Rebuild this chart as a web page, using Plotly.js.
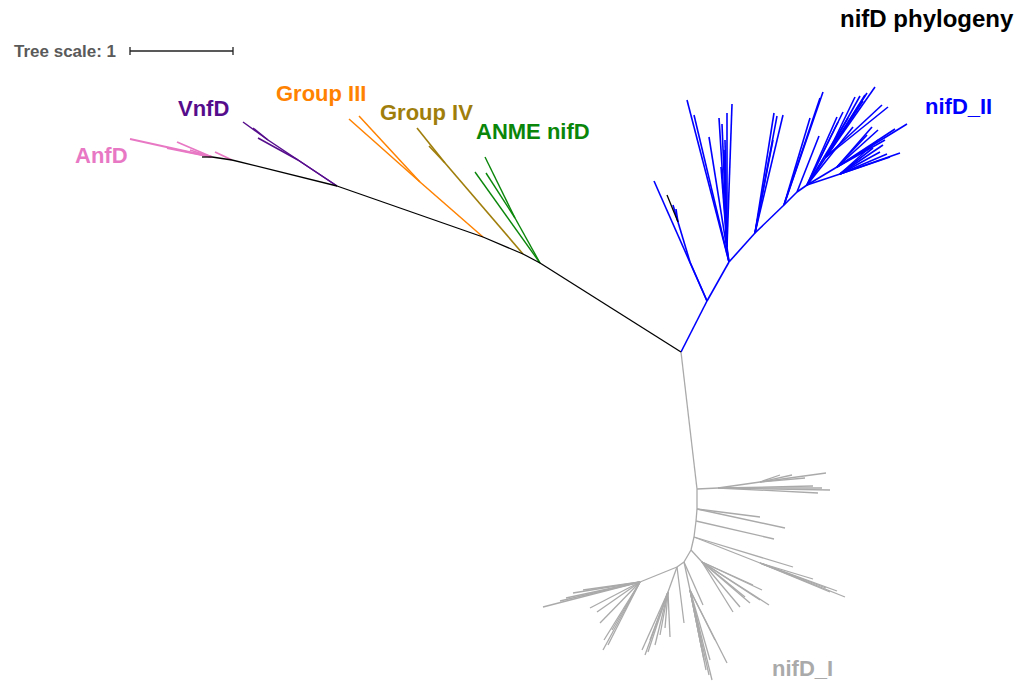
<!DOCTYPE html>
<html>
<head>
<meta charset="utf-8">
<script src="https://cdn.plot.ly/plotly-3.0.1.min.js"></script>
<style>
  html, body { margin: 0; padding: 0; background: #ffffff; }
  #tree { width: 1032px; height: 681px; }
</style>
</head>
<body>
<div id="tree"></div>
<script>
// Unrooted nifD tree, laid out in drawing units (1 tree unit = treeScalePx units).

// Clades and their colours
const cladeNames  = ['backbone', 'AnfD', 'VnfD', 'Group III', 'Group IV', 'ANME nifD', 'nifD_II', 'nifD_I'];
const cladeColors = ['#000000', '#e878c4', '#560d8c', '#ff8200', '#a07e0c', '#0a860a', '#0000ff', '#aaaaaa'];

// Internal nodes: [id, parent, x, y, clade of the branch leading to it]
const innerNodes = [
  ['root',  null,    681, 352, 'backbone'],
  ['anme',  'root',  540, 263, 'backbone'],
  ['g4n',   'anme',  523, 254, 'backbone'],
  ['g3n',   'g4n',   483, 237, 'backbone'],
  ['vnf',   'g3n',   337, 186, 'backbone'],
  ['anfA',  'vnf',   232, 160, 'backbone'],
  ['anf',   'anfA',  212, 157, 'backbone'],
  ['vnf1',  'vnf',   268, 140, 'VnfD'],
  ['vnf2',  'vnf',   298, 160, 'VnfD'],
  ['g3a',   'g3n',   420, 182, 'Group III'],
  ['g4a',   'g4n',   445, 163, 'Group IV'],
  ['anme1', 'anme',  515, 218, 'ANME nifD'],
  ['bA',    'root',  707, 301, 'nifD_II'],
  ['bA1',   'bA',    690, 262, 'nifD_II'],
  ['bA2',   'bA1',   678, 222, 'nifD_II'],
  ['bB',    'bA',    729, 262, 'nifD_II'],
  ['bB2',   'bB',    727, 247, 'nifD_II'],
  ['bC',    'bB',    755, 233, 'nifD_II'],
  ['bD',    'bC',    784, 205, 'nifD_II'],
  ['bE',    'bD',    797, 192, 'nifD_II'],
  ['bF',    'bE',    807, 185, 'nifD_II'],
  ['bF1',   'bF',    826, 157, 'nifD_II'],
  ['bF2',   'bF',    837, 167, 'nifD_II'],
  ['bF3',   'bF',    840, 174, 'nifD_II'],
  ['gA',    'root',  697, 489, 'nifD_I'],
  ['gA1',   'gA',    718, 488, 'nifD_I'],
  ['gA2',   'gA1',   760, 482, 'nifD_I'],
  ['gB',    'gA',    697, 509, 'nifD_I'],
  ['gC',    'gB',    696, 521, 'nifD_I'],
  ['gD',    'gC',    694, 537, 'nifD_I'],
  ['gD1',   'gD',    760, 563, 'nifD_I'],
  ['gE',    'gD',    691, 550, 'nifD_I'],
  ['gE1',   'gE',    702, 562, 'nifD_I'],
  ['gF',    'gE',    684, 562, 'nifD_I'],
  ['gF1',   'gF',    690, 590, 'nifD_I'],
  ['gG',    'gF',    677, 567, 'nifD_I'],
  ['gG1',   'gG',    640, 582, 'nifD_I'],
  ['gG2',   'gG',    668, 592, 'nifD_I']
];

// Leaves per clade: [parent, x, y]
const backboneLeaves = [['anf', 202, 157], ['bA2', 667, 195]];
const anfdLeaves  = [['anf', 130, 139], ['anf', 177, 142], ['anf', 167, 148], ['anf', 190, 150], ['anfA', 215, 152]];
const vnfdLeaves  = [['vnf1', 243, 122], ['vnf1', 253, 128], ['vnf2', 258, 138]];
const group3Leaves = [['g3a', 349, 119], ['g3a', 359, 116]];
const group4Leaves = [['g4a', 417, 128], ['g4a', 429, 146]];
const anmeLeaves  = [['anme1', 485, 157], ['anme1', 486, 173], ['anme', 475, 172]];
const nifd2Leaves = [
  ['bA', 654, 181], ['bA2', 673, 205], ['bA2', 676, 209],
  ['bB', 687, 100], ['bB', 694, 115], ['bB', 709, 137],
  ['bB2', 719, 118], ['bB2', 722, 124], ['bB2', 727, 113], ['bB2', 732, 104],
  ['bB2', 721, 167], ['bB2', 724, 150], ['bB2', 725, 140],
  ['bC', 774, 113], ['bC', 777, 116], ['bC', 783, 115], ['bC', 773, 140],
  ['bD', 823, 92], ['bD', 820, 98], ['bD', 810, 118], ['bE', 819, 136],
  ['bF1', 855, 97], ['bF1', 860, 96], ['bF1', 865, 95], ['bF1', 867, 93],
  ['bF1', 875, 87], ['bF1', 882, 105], ['bF1', 888, 107], ['bF1', 863, 101],
  ['bF', 837, 117], ['bF', 838, 122], ['bF', 843, 112], ['bF', 853, 127], ['bF', 848, 118],
  ['bF2', 907, 124], ['bF2', 895, 129], ['bF2', 878, 130], ['bF2', 867, 135], ['bF2', 885, 140],
  ['bF2', 872, 127],
  ['bF3', 900, 153], ['bF3', 883, 145], ['bF3', 890, 157], ['bF3', 880, 152], ['bF3', 873, 148],
  ['bF3', 878, 140], ['bF3', 887, 154]
];
const nifd1Leaves = [
  ['gA2', 826, 473], ['gA2', 780, 475], ['gA2', 792, 475], ['gA2', 805, 478],
  ['gA1', 830, 490], ['gA1', 818, 493], ['gA1', 813, 486], ['gA1', 822, 488],
  ['gB', 760, 517], ['gB', 785, 528], ['gC', 774, 539],
  ['gD1', 845, 597], ['gD1', 837, 591], ['gD1', 826, 588], ['gD1', 813, 579], ['gD1', 830, 592],
  ['gD', 793, 567],
  ['gE1', 753, 585], ['gE1', 769, 605], ['gE1', 760, 600], ['gE1', 745, 597],
  ['gE1', 740, 607], ['gE1', 733, 612], ['gE1', 762, 590], ['gE1', 750, 603],
  ['gF1', 712, 680], ['gF1', 709, 675], ['gF1', 706, 670], ['gF1', 704, 660],
  ['gF1', 702, 650], ['gF1', 727, 663], ['gF1', 715, 640], ['gF1', 710, 660], ['gF', 703, 605],
  ['gG1', 543, 607], ['gG1', 560, 601], ['gG1', 573, 593], ['gG1', 583, 590],
  ['gG1', 597, 612], ['gG1', 600, 623], ['gG1', 604, 640], ['gG1', 603, 650],
  ['gG1', 612, 630], ['gG1', 590, 608], ['gG1', 566, 598], ['gG1', 608, 645],
  ['gG2', 642, 650], ['gG2', 648, 652], ['gG2', 655, 645], ['gG2', 660, 635],
  ['gG2', 670, 637], ['gG2', 665, 628], ['gG2', 650, 640], ['gG2', 645, 655],
  ['gG', 684, 623]
];
const leafSets = {
  'backbone': backboneLeaves, 'AnfD': anfdLeaves, 'VnfD': vnfdLeaves,
  'Group III': group3Leaves, 'Group IV': group4Leaves, 'ANME nifD': anmeLeaves,
  'nifD_II': nifd2Leaves, 'nifD_I': nifd1Leaves
};

// Clade labels: [text, x, y, clade]
const cladeLabels = [
  ['AnfD', 101, 155, 'AnfD'],
  ['VnfD', 203, 108, 'VnfD'],
  ['Group III', 321, 93, 'Group III'],
  ['Group IV', 426, 112, 'Group IV'],
  ['ANME nifD', 533, 131, 'ANME nifD'],
  ['nifD_II', 958, 106, 'nifD_II'],
  ['nifD_I', 802, 668, 'nifD_I']
];

// Scale bar: one tree unit
const treeScaleValue = 1;
const treeScalePx = 103;
const scaleBarStart = [130, 51];

// ---- build traces ----
const nodePos = {};
innerNodes.forEach(n => { nodePos[n[0]] = [n[2], n[3]]; });

const segs = {};
cladeNames.forEach(c => { segs[c] = { x: [], y: [] }; });

innerNodes.forEach(n => {
  if (n[1] === null) return;
  const p = nodePos[n[1]];
  const s = segs[n[4]];
  s.x.push(p[0], n[2], null);
  s.y.push(p[1], n[3], null);
});
cladeNames.forEach(c => {
  leafSets[c].forEach(l => {
    const p = nodePos[l[0]];
    segs[c].x.push(p[0], l[1], null);
    segs[c].y.push(p[1], l[2], null);
  });
});

const widths = { 'backbone': 1.3, 'AnfD': 1.8, 'VnfD': 1.5, 'Group III': 1.5, 'Group IV': 1.6,
                 'ANME nifD': 1.4, 'nifD_II': 1.6, 'nifD_I': 1.3 };

// draw grey & blue first, backbone and small clades on top
const drawOrder = ['nifD_I', 'nifD_II', 'AnfD', 'VnfD', 'Group III', 'Group IV', 'ANME nifD', 'backbone'];
const traces = drawOrder.map(c => ({
  type: 'scatter', mode: 'lines', name: c,
  x: segs[c].x, y: segs[c].y,
  line: { color: cladeColors[cladeNames.indexOf(c)], width: widths[c] },
  hoverinfo: 'skip', showlegend: false
}));

// scale bar as a trace from the scale value
const sx0 = scaleBarStart[0], sy = scaleBarStart[1];
const sx1 = sx0 + treeScaleValue * treeScalePx;
traces.push({
  type: 'scatter', mode: 'lines',
  x: [sx0, sx1, null, sx0, sx0, null, sx1, sx1],
  y: [sy, sy, null, sy - 4, sy + 4, null, sy - 4, sy + 4],
  line: { color: '#222222', width: 1.3 },
  hoverinfo: 'skip', showlegend: false
});

const fontFam = 'Liberation Sans, Arial, Helvetica, sans-serif';
const annotations = cladeLabels.map(l => ({
  text: '<b>' + l[0] + '</b>', x: l[1], y: l[2], xref: 'x', yref: 'y',
  showarrow: false, xanchor: 'center', yanchor: 'middle',
  font: { family: fontFam, size: 22, color: cladeColors[cladeNames.indexOf(l[3])] }
}));
annotations.push({
  text: '<b>Tree scale: ' + treeScaleValue + '</b>', x: 12, y: 51, xref: 'x', yref: 'y',
  showarrow: false, xanchor: 'left', yanchor: 'middle',
  font: { family: fontFam, size: 17, color: '#5a5a5a' }
});
annotations.push({
  text: '<b>nifD phylogeny</b>', x: 1016, y: 18, xref: 'x', yref: 'y',
  showarrow: false, xanchor: 'right', yanchor: 'middle',
  font: { family: fontFam, size: 24, color: '#000000' }
});

const layout = {
  width: 1032, height: 681,
  margin: { l: 0, r: 0, t: 0, b: 0 },
  paper_bgcolor: '#ffffff', plot_bgcolor: '#ffffff',
  xaxis: { range: [0, 1032], visible: false, fixedrange: true },
  yaxis: { range: [681, 0], visible: false, fixedrange: true },
  annotations: annotations,
  showlegend: false
};

Plotly.newPlot('tree', traces, layout, { displayModeBar: false, staticPlot: true });
</script>
</body>
</html>
